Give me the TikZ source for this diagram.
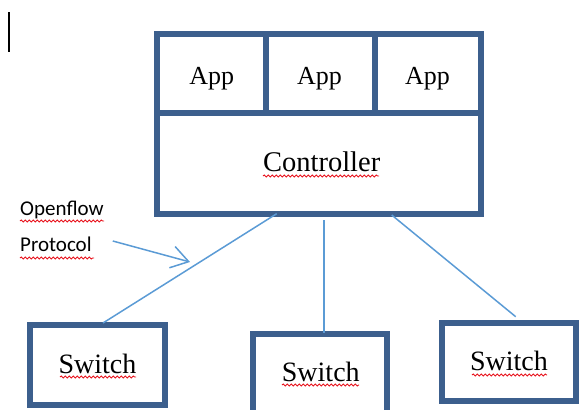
\documentclass[tikz,border=0pt]{standalone}
\usepackage{fontspec}
\setmainfont{Liberation Serif}
\newfontfamily\labelfont{Carlito}
\usetikzlibrary{arrows.meta,decorations.pathmorphing,calc}

\definecolor{boxblue}{HTML}{3C5F8D}
\definecolor{linkblue}{HTML}{5B9BD5}
\definecolor{spellred}{HTML}{E8141E}

\tikzset{
  box/.style={draw=boxblue, line width=6pt, rectangle, inner sep=0pt, outer sep=0pt},
  boxtext/.style={anchor=base, inner sep=0pt, font=\fontsize{27}{31}\selectfont},
  sidetext/.style={anchor=base west, inner sep=0pt, font=\labelfont\fontsize{21}{25}\selectfont},
  link/.style={draw=linkblue, line width=1.5pt},
  squiggle/.style={draw=spellred, line width=0.9pt,
    decorate, decoration={snake, segment length=4pt, amplitude=1pt}},
}

\begin{document}
\begin{tikzpicture}[x=1pt, y=-1pt]
  \useasboundingbox (0,0) rectangle (579,410);
  \clip (0,0) rectangle (579,410);

  % text cursor
  \draw[line width=1.4pt] (9,12) -- (9,52);

  % controller block with its three applications
  \node[box, minimum width=108.5pt, minimum height=79pt] (app1) at (211.25,73.5) {};
  \node[box, minimum width=109.5pt, minimum height=79pt] (app2) at (320.25,73.5) {};
  \node[box, minimum width=106pt,   minimum height=79pt] (app3) at (428,73.5) {};
  \node[box, minimum width=324pt, minimum height=100.7pt] (ctrl) at (319,163.35) {};

  \node[boxtext, font=\fontsize{26}{30}\selectfont] (app1t) at (211.7,84.3) {App};
  \node[boxtext, font=\fontsize{26}{30}\selectfont] (app2t) at (319.5,84.3) {App};
  \node[boxtext, font=\fontsize{26}{30}\selectfont] (app3t) at (427.5,84.3) {App};
  \node[boxtext, font=\fontsize{28.5}{32}\selectfont] (ctrlt) at (321.7,171.7) {Controller};

  % switches
  \node[box, minimum width=135.5pt, minimum height=80.5pt] (sw1) at (97.25,364.75) {};
  \node[box, minimum width=134.5pt, minimum height=80.5pt] (sw2) at (319.75,373.75) {};
  \node[box, minimum width=134.5pt, minimum height=78.5pt] (sw3) at (508.75,361.75) {};

  \node[boxtext, font=\fontsize{28}{32}\selectfont] (sw1t) at (97.5,373) {Switch};
  \node[boxtext, font=\fontsize{28}{32}\selectfont] (sw2t) at (320.8,381.7) {Switch};
  \node[boxtext, font=\fontsize{28}{32}\selectfont] (sw3t) at (509,370.7) {Switch};

  % protocol label
  \node[sidetext] (of)  at (20,215)   {Openflow};
  \node[sidetext] (pro) at (20,251.7) {Protocol};

  % links between controller and switches (y grows downwards here)
  \coordinate (l1a) at ($(ctrl.south west)+(119.7,0)$);
  \coordinate (l1b) at ($(sw1.north west)+(73.5,-1.5)$);
  \coordinate (l2a) at ($(ctrl.south west)+(167,6.3)$);
  \coordinate (l2b) at ($(sw2.north west)+(71.5,-0.5)$);
  \coordinate (l3a) at ($(ctrl.south west)+(234.7,1.3)$);
  \coordinate (l3b) at ($(sw3.north west)+(74.2,-5.8)$);
  \draw[link] (l1a) -- (l1b);
  \draw[link] (l2a) -- (l2b);
  \draw[link] (l3a) -- (l3b);

  % pointer from the label to the link
  \coordinate (arra) at ($(pro.base east)+(21,-10.7)$);
  \coordinate (arrb) at (190,262);
  \draw[link, -{Straight Barb[length=17pt, width=22pt, line width=1.5pt]}] (arra) -- (arrb);

  % spelling marks
  \draw[squiggle] (20,221) -- (104,221);
  \draw[squiggle] (20,258) -- (94,258);
  \draw[squiggle] (263,176) -- (379,176);
  \draw[squiggle] (60,377) -- (136,377);
  \draw[squiggle] (282,385) -- (359,385);
  \draw[squiggle] (472,375) -- (547,375);
\end{tikzpicture}
\end{document}
